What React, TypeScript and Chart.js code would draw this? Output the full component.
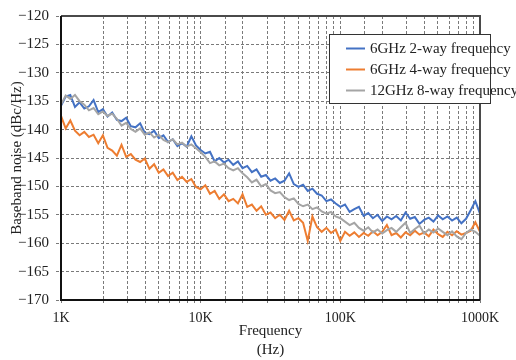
import React, { useEffect, useRef } from "react";
import { Chart, registerables } from "chart.js";

Chart.register(...registerables);

// Frequency points in kHz (axis labels are 1K ... 1000K)
const FREQ_KHZ = [
  1, 1.08, 1.166, 1.259, 1.359, 1.468, 1.585, 1.711, 1.848, 1.995,
  2.154, 2.326, 2.512, 2.712, 2.929, 3.162, 3.415, 3.687, 3.981, 4.299,
  4.642, 5.012, 5.412, 5.843, 6.31, 6.813, 7.356, 7.943, 8.577, 9.261,
  10, 10.8, 11.66, 12.59, 13.59, 14.68, 15.85, 17.11, 18.48, 19.95,
  21.54, 23.26, 25.12, 27.12, 29.29, 31.62, 34.15, 36.87, 39.81, 42.99,
  46.42, 50.12, 54.12, 58.43, 63.1, 68.13, 73.56, 79.43, 85.77, 92.61,
  100, 108, 116.6, 125.9, 135.9, 146.8, 158.5, 171.1, 184.8, 199.5,
  215.4, 232.6, 251.2, 271.2, 292.9, 316.2, 341.5, 368.7, 398.1, 429.9,
  464.2, 501.2, 541.2, 584.3, 631, 681.3, 735.6, 794.3, 857.7, 926.1,
  1000,
];

const SERIES_NAMES = ["6GHz 2-way frequency", "6GHz 4-way frequency", "12GHz 8-way frequency"];
const SERIES_COLORS = ["#4472C4", "#ED7D31", "#A5A5A5"];

// dBc/Hz
const NOISE_6G_2WAY = [
  -135.8, -134.2, -133.9, -136.0, -135.2, -136.3, -135.9, -134.8, -136.9, -136.4,
  -137.7, -137.0, -138.3, -138.5, -137.9, -139.4, -139.6, -138.9, -140.6, -140.8,
  -140.2, -141.5, -141.0, -142.2, -141.7, -142.9, -142.4, -143.0, -141.2, -142.8,
  -143.6, -144.2, -143.9, -145.6, -145.0, -145.8, -145.3, -146.2, -145.6, -146.8,
  -146.4, -147.5, -147.0, -148.3, -148.0, -149.0, -148.6, -149.4, -149.0, -147.7,
  -149.6, -150.1, -149.7, -150.8, -150.4, -151.3, -151.6, -152.6, -152.3, -153.0,
  -153.6, -153.2, -154.5, -154.0, -153.6, -155.2, -154.7, -155.6, -155.0, -156.1,
  -155.3, -155.8, -155.2, -156.0, -154.6, -155.7, -155.4, -156.6, -155.9, -155.5,
  -156.2, -155.1, -155.8, -155.3, -156.0, -155.5, -156.5, -155.7, -154.2, -152.6,
  -154.8,
];

const NOISE_6G_4WAY = [
  -137.6, -139.8, -138.4, -140.2, -141.0, -140.4, -141.3, -140.9, -142.4, -141.0,
  -143.2, -143.7, -144.6, -142.7, -144.8, -144.3, -145.3, -145.7, -145.1, -146.9,
  -146.1, -147.6, -147.0, -148.2, -147.6, -148.9, -148.3, -149.2, -148.7, -150.1,
  -150.5, -149.8, -151.3, -150.8, -152.2, -151.4, -152.6, -152.2, -153.0, -151.4,
  -153.6, -153.2, -154.3, -153.5, -155.0, -154.6, -155.6, -155.0, -155.9, -154.3,
  -156.0, -155.6, -156.4, -159.6, -155.3, -157.2, -158.0, -157.3, -158.2, -157.6,
  -159.6, -158.0, -158.7, -158.1, -158.9, -158.2, -158.7, -157.9, -158.6, -158.0,
  -156.8, -158.6, -158.2, -159.0, -158.1, -158.6, -157.8, -158.5, -158.1, -158.8,
  -157.6, -158.4, -158.9, -158.0, -158.6, -157.9, -158.5, -158.2, -157.8, -156.3,
  -158.0,
];

const NOISE_12G_8WAY = [
  -135.6, -134.0, -134.6, -133.9, -135.0, -135.6, -136.6, -136.2, -137.3, -136.8,
  -137.6, -137.2, -138.1, -139.3, -138.8, -139.9, -140.4, -139.8, -140.9, -140.5,
  -141.4, -140.9, -141.8, -142.2, -141.7, -142.6, -142.3, -143.0, -142.6, -143.3,
  -144.0, -144.8, -145.9, -145.6, -146.3, -146.0, -146.8, -147.2, -146.8, -147.7,
  -148.4, -149.3, -148.8, -150.0, -149.6, -150.7, -151.2, -151.0, -151.9, -152.4,
  -152.1, -153.1, -153.5, -153.2, -154.0, -153.7, -154.4, -154.8, -154.5, -155.3,
  -155.6, -156.2, -156.8, -156.4, -157.3, -157.8, -157.2, -158.1, -157.6, -158.3,
  -157.7, -157.3, -158.0, -157.2, -156.4, -158.2, -157.5, -156.9, -158.3, -157.6,
  -158.1, -157.4, -158.0, -158.6, -157.9, -158.8, -159.3, -158.2, -157.6, -158.0,
  -158.7,
];

const SERIES_VALUES = [NOISE_6G_2WAY, NOISE_6G_4WAY, NOISE_12G_8WAY];

const X_MIN = 1;
const X_MAX = 1000;
const X_LABELED_TICKS = [1, 10, 100, 1000];
const Y_MIN = -170;
const Y_MAX = -120;
const Y_STEP = 5;

const FONT = "'Liberation Serif', 'DejaVu Serif', serif";
const TEXT_COLOR = "#222";
const GRID_COLOR = "#7a7a7a";

const framePlugin = {
  id: "frame",
  afterDatasetsDraw(chart: any) {
    const { ctx, chartArea: a } = chart;
    ctx.save();
    ctx.lineWidth = 2;
    ctx.strokeStyle = "#4a4a4a";
    ctx.beginPath();
    ctx.moveTo(a.left, a.top);
    ctx.lineTo(a.right, a.top);
    ctx.lineTo(a.right, a.bottom);
    ctx.stroke();
    ctx.strokeStyle = "#111";
    ctx.beginPath();
    ctx.moveTo(a.left, a.top);
    ctx.lineTo(a.left, a.bottom);
    ctx.lineTo(a.right, a.bottom);
    ctx.stroke();
    ctx.restore();
  },
};

const legendPlugin = {
  id: "boxLegend",
  afterDraw(chart: any) {
    const { ctx, chartArea: a } = chart;
    const x0 = a.right - 150.5;
    const y0 = a.top + 18.5;
    const w = 161;
    const h = 69;
    ctx.save();
    ctx.fillStyle = "#fff";
    ctx.fillRect(x0, y0, w, h);
    ctx.strokeStyle = "#333";
    ctx.lineWidth = 1;
    ctx.strokeRect(x0, y0, w, h);
    ctx.font = `15px ${FONT}`;
    ctx.textBaseline = "middle";
    ctx.textAlign = "left";
    SERIES_NAMES.forEach((name, i) => {
      const y = y0 + 14 + i * 21;
      ctx.strokeStyle = SERIES_COLORS[i];
      ctx.lineWidth = 2;
      ctx.beginPath();
      ctx.moveTo(x0 + 16.5, y);
      ctx.lineTo(x0 + 35.5, y);
      ctx.stroke();
      ctx.fillStyle = TEXT_COLOR;
      ctx.fillText(name, x0 + 40.5, y + 1);
    });
    ctx.restore();
  },
};

export default function App() {
  const canvasRef = useRef<HTMLCanvasElement | null>(null);

  useEffect(() => {
    if (!canvasRef.current) return;
    const chart = new Chart(canvasRef.current, {
      type: "line",
      data: {
        datasets: SERIES_NAMES.map((name, i) => ({
          label: name,
          data: FREQ_KHZ.map((f, j) => ({ x: f, y: SERIES_VALUES[i][j] })),
          borderColor: SERIES_COLORS[i],
          backgroundColor: SERIES_COLORS[i],
          borderWidth: 2,
          pointRadius: 0,
          tension: 0,
          fill: false,
          order: 3 - i,
        })),
      },
      options: {
        responsive: false,
        animation: false,
        layout: { padding: { top: 8, right: 36, left: 0, bottom: 0 } },
        plugins: {
          legend: { display: false },
          tooltip: { enabled: false },
          title: { display: false },
        },
        scales: {
          x: {
            type: "logarithmic",
            min: X_MIN,
            max: X_MAX,
            afterFit: (s: any) => {
              s.height = 60;
            },
            border: { display: false, dash: [3, 2] },
            grid: {
              color: GRID_COLOR,
              lineWidth: 1,
              tickLength: 4,
              drawTicks: true,
              tickBorderDash: [3, 2],
            },
            ticks: {
              autoSkip: false,
              maxRotation: 0,
              minRotation: 0,
              padding: 6,
              color: TEXT_COLOR,
              font: { family: FONT, size: 14 },
              callback: (v: any) => (X_LABELED_TICKS.includes(Number(v)) ? `${v}K` : ""),
            },
            title: {
              display: true,
              text: ["Frequency", "(Hz)"],
              color: TEXT_COLOR,
              font: { family: FONT, size: 15, lineHeight: 1.3 },
              padding: { top: 0, bottom: 0 },
            },
          },
          y: {
            type: "linear",
            min: Y_MIN,
            max: Y_MAX,
            afterFit: (s: any) => {
              s.width = 61;
            },
            border: { display: false, dash: [3, 2] },
            grid: {
              color: GRID_COLOR,
              lineWidth: 1,
              tickLength: 5,
              drawTicks: true,
              tickBorderDash: [3, 2],
            },
            ticks: {
              stepSize: Y_STEP,
              padding: 7,
              color: TEXT_COLOR,
              font: { family: FONT, size: 15 },
              callback: (v: any) => String(v).replace("-", "\u2212"),
            },
            title: {
              display: true,
              text: "Baseband noise (dBc/Hz)",
              color: TEXT_COLOR,
              font: { family: FONT, size: 15 },
              padding: { top: 8, bottom: 0 },
            },
          },
        },
      },
      plugins: [framePlugin, legendPlugin],
    } as any);
    return () => chart.destroy();
  }, []);

  return (
    <div style={{ position: "absolute", left: 0, top: 0, width: 516, height: 360 }}>
      <canvas ref={canvasRef} width={516} height={360} style={{ display: "block" }} />
    </div>
  );
}
